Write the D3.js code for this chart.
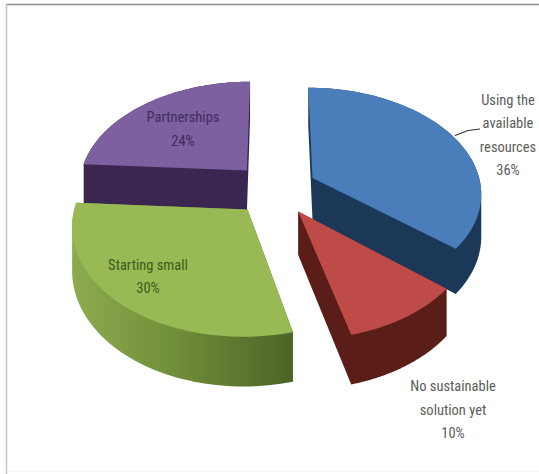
<!DOCTYPE html>
<html>
<head>
<meta charset="utf-8">
<script src="https://cdn.jsdelivr.net/npm/d3@7"></script>
<style>
html,body{margin:0;padding:0;background:#fff;}
svg{display:block;}
text{font-family:"Liberation Sans Narrow","Roboto Condensed","Liberation Sans",sans-serif;font-size:14.5px;text-anchor:middle;}
</style>
</head>
<body>
<svg id="chart" width="539" height="474"></svg>
<script>
// Share of respondents per approach, clockwise from twelve o'clock
const categories = ["Using the available resources", "No sustainable solution yet", "Starting small", "Partnerships"];
const shares = [36, 10, 30, 24];
const topColors = ["#4a7ebb", "#be4b48", "#98b954", "#7d60a0"];
const wallColors = ["#1b3859", "#5a1d18", "#5f7d30", "#3a2650"];
const labelLines = [
  ["Using the", "available", "resources", "36%"],
  ["No sustainable", "solution yet", "10%"],
  ["Starting small", "30%"],
  ["Partnerships", "24%"]
];
const labelColors = ["#5c5c5c", "#5c5c5c", "#3f5a1c", "#3e2d5c"];
const labelAnchors = [[508, 105], [453, 391], [148, 270], [183, 122]];
const labelSteps = [23.3, 23.5, 23, 24];
const paintOrder = [3, 0, 2, 1];

// Pie geometry in its own plane, and the tilted view onto it
const radius = 169, explode = 42, depth = 42;
const centre = [275, 189], tilt = 0.62, perspective = 0.00077;

const svg = d3.select("#chart");

const project = (X, Y, z = 0) => {
  const s = 1 / (1 - perspective * Y);
  return [centre[0] + X * s, centre[1] + (tilt * Y + z) * s];
};

const slices = d3.pie().sort(null).value(d => d)(shares);
const line = d3.line();

// Frame around the chart area
svg.append("line").attr("x1", 6).attr("y1", 4.5).attr("x2", 539).attr("y2", 4.5).attr("stroke", "#8c8c8c").attr("stroke-width", 1.5);
svg.append("line").attr("x1", 6.5).attr("y1", 4).attr("x2", 6.5).attr("y2", 474).attr("stroke", "#c4c4c4").attr("stroke-width", 1.5);
svg.append("line").attr("x1", 7).attr("y1", 471.5).attr("x2", 539).attr("y2", 471.5).attr("stroke", "#f7f7f7");

const gradient = svg.append("defs").append("linearGradient")
  .attr("id", "greenWall").attr("gradientUnits", "userSpaceOnUse")
  .attr("x1", 72).attr("y1", 0).attr("x2", 292).attr("y2", 0);
gradient.append("stop").attr("offset", 0).attr("stop-color", "#8dab4e");
gradient.append("stop").attr("offset", 0.45).attr("stop-color", "#728f3a");
gradient.append("stop").attr("offset", 1).attr("stop-color", "#4c6526");

paintOrder.forEach(i => {
  const d = slices[i];
  const mid = (d.startAngle + d.endAngle) / 2;
  const ox = explode * Math.sin(mid), oy = -explode * Math.cos(mid);
  const angles = d3.range(0, 61).map(k => d.startAngle + (d.endAngle - d.startAngle) * k / 60);
  const rim = z => angles.map(a => project(ox + radius * Math.sin(a), oy - radius * Math.cos(a), z));
  const apex = z => project(ox, oy, z);
  const g = svg.append("g").attr("class", "slice");

  // Extruded body as one outline, so the dark walls carry no seams
  const body = d3.polygonHull([apex(0), apex(depth), ...rim(0), ...rim(depth)]);
  g.append("path")
    .attr("d", line(body) + "Z")
    .attr("fill", i === 2 ? "url(#greenWall)" : wallColors[i]);

  // Top face
  g.append("path")
    .attr("d", line([apex(0), ...rim(0)]) + "Z")
    .attr("fill", topColors[i]);
});

// Leader line for the outside label
svg.append("path").attr("d", line([[455, 135.5], [468, 130.5], [480, 129]]))
  .attr("fill", "none").attr("stroke", "#333").attr("stroke-width", 1.2);

// Labels
categories.forEach((c, i) => {
  const t = svg.append("text").attr("class", "label").attr("fill", labelColors[i]);
  labelLines[i].forEach((l, k) => {
    t.append("tspan").attr("x", labelAnchors[i][0]).attr("y", labelAnchors[i][1] + k * labelSteps[i]).text(l);
  });
});
</script>
</body>
</html>
